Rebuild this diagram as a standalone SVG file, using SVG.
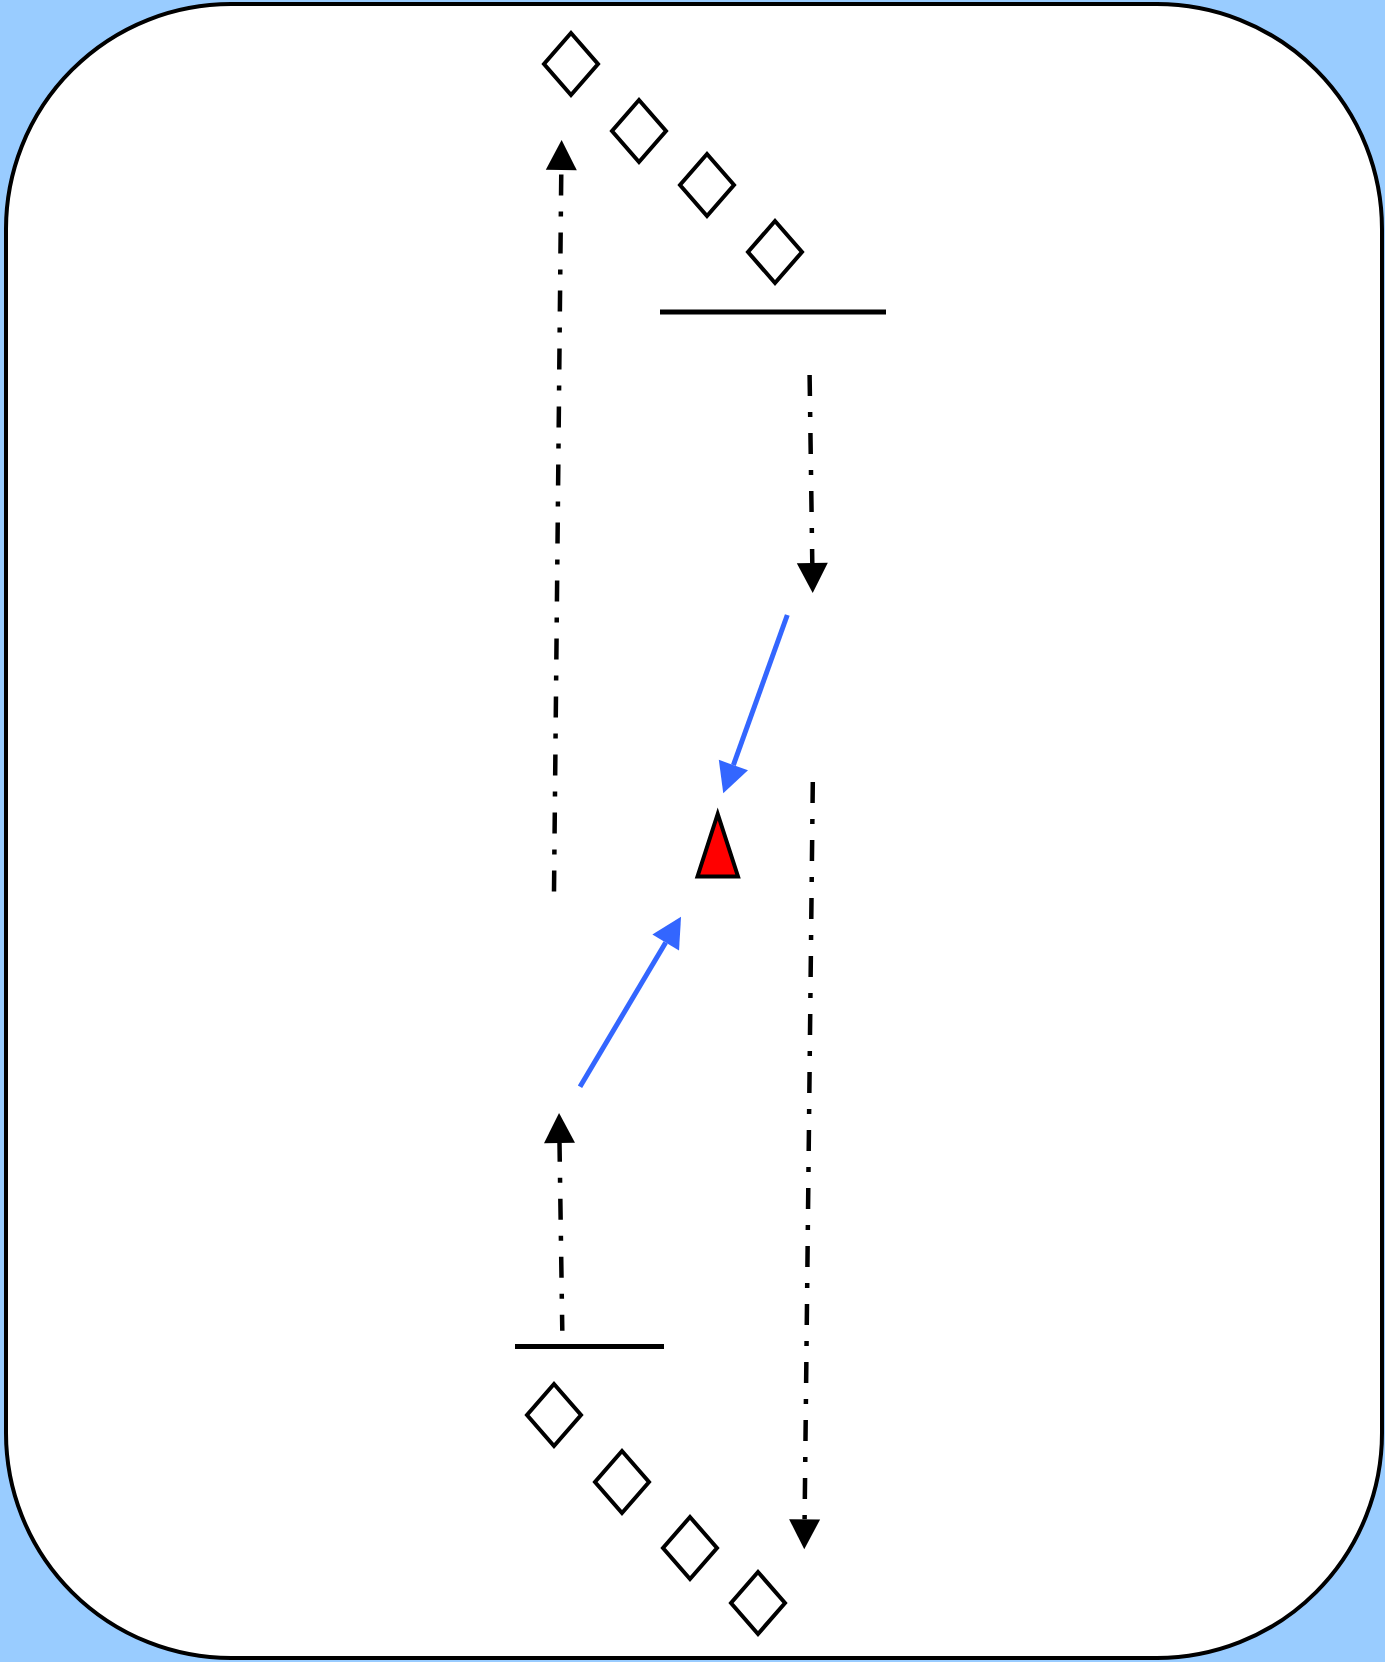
<svg xmlns="http://www.w3.org/2000/svg" width="1385" height="1662" viewBox="0 0 1385 1662">
<style>
.dia{fill:#ffffff;stroke:#000;stroke-width:4}
.bar{stroke:#000;stroke-width:5;fill:none}
.dd{stroke:#000;stroke-width:4.5;fill:none;stroke-dasharray:21 16 5 16}
.bl{stroke:#3366ff;stroke-width:5;fill:none}
</style>
<defs>
<marker id="ak" markerUnits="userSpaceOnUse" markerWidth="31" markerHeight="31" refX="0" refY="15.5" orient="auto" overflow="visible"><path d="M0,0 L30,15.5 L0,31 z" fill="#000"/></marker>
<marker id="ab" markerUnits="userSpaceOnUse" markerWidth="31" markerHeight="31" refX="0" refY="15.5" orient="auto" overflow="visible"><path d="M0,0 L30,15.5 L0,31 z" fill="#3366ff"/></marker>
</defs>
<rect x="0" y="0" width="1385" height="1662" fill="#99ccff"/>
<rect id="frame" x="6" y="4" width="1376" height="1654" rx="225" ry="225" fill="#ffffff" stroke="#000" stroke-width="4"/>
<g id="top-diamonds">
<polygon id="td1" class="dia" points="571,33 598,64 571,95 544,64"/>
<polygon id="td2" class="dia" points="639,100 666,131 639,162 612,131"/>
<polygon id="td3" class="dia" points="707,154 734,185 707,216 680,185"/>
<polygon id="td4" class="dia" points="775,221 802,252 775,283 748,252"/>
</g>
<g id="top-bar"><line class="bar" x1="660" y1="312" x2="886" y2="312"/></g>
<g id="triangle"><polygon points="717.7,814 697.5,876.5 738,876.5" fill="#ff0000" stroke="#000" stroke-width="4"/></g>
<g id="bottom-bar"><line class="bar" x1="515" y1="1346.5" x2="664" y2="1346.5"/></g>
<g id="bottom-diamonds">
<polygon id="bd1" class="dia" points="554,1384 581,1415 554,1446 527,1415"/>
<polygon id="bd2" class="dia" points="622,1451 649,1482 622,1513 595,1482"/>
<polygon id="bd3" class="dia" points="690,1517 717,1548 690,1579 663,1548"/>
<polygon id="bd4" class="dia" points="758,1572 785,1603 758,1634 731,1603"/>
</g>
<g id="connectors">
<line class="dd" x1="554" y1="891.5" x2="561.3" y2="170" marker-end="url(#ak)"/>
<line class="dd" x1="809.6" y1="375" x2="812.3" y2="563" marker-end="url(#ak)"/>
<line class="bl" x1="787.3" y1="615" x2="733.4" y2="765.1" marker-end="url(#ab)"/>
<line class="bl" x1="580" y1="1086.7" x2="665.7" y2="942.5" marker-end="url(#ab)"/>
<line class="dd" x1="812.8" y1="782" x2="804.6" y2="1519.3" marker-end="url(#ak)"/>
<line class="dd" x1="562.3" y1="1330.7" x2="559.5" y2="1143" marker-end="url(#ak)" stroke-dashoffset="5"/>
</g>
</svg>
